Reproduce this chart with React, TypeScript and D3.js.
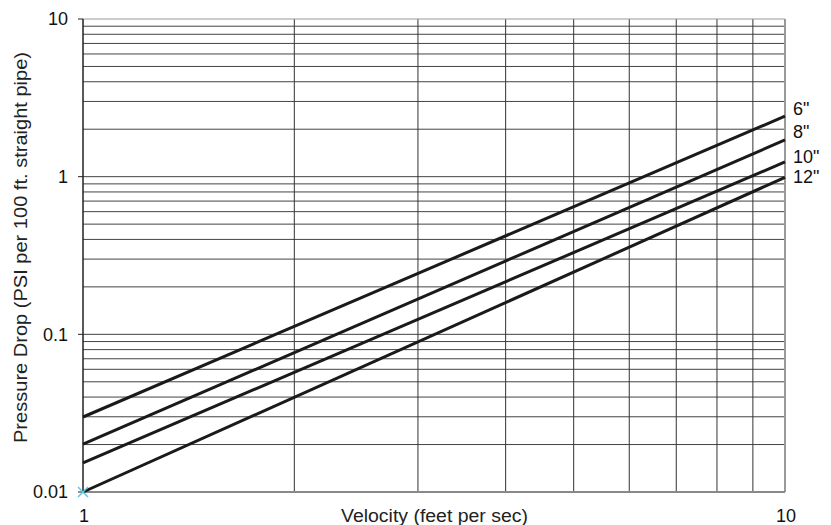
import React from "react";
import * as d3 from "d3";

const velocities = [1, 10];
const pipe6 = [0.0299, 2.42];
const pipe8 = [0.0201, 1.71];
const pipe10 = [0.0153, 1.24];
const pipe12 = [0.01, 0.99];
const seriesNames = ['6"', '8"', '10"', '12"'];
const xTickLabels = [1, 10];
const yTickLabels = [0.01, 0.1, 1, 10];

const W = 831, H = 525;
const M = { left: 83, right: 785, top: 19, bottom: 492 };
const labelDy = [-1, -2, 1, 6];

export default function App() {
  const x = d3.scaleLog().domain([1, 10]).range([M.left, M.right]);
  const y = d3.scaleLog().domain([0.01, 10]).range([M.bottom, M.top]);
  const series = [pipe6, pipe8, pipe10, pipe12];
  const line = d3.line<[number, number]>().x(d => x(d[0])).y(d => y(d[1]));

  const yGrid: number[] = [];
  for (let e = -2; e < 1; e++) for (let k = 1; k <= 9; k++) yGrid.push(k * Math.pow(10, e));
  const xGrid = [2, 3, 4, 5, 6, 7, 8, 9];

  const font = "'Liberation Sans', Arial, Helvetica, sans-serif";

  return (
    <svg width={W} height={H} style={{ position: "absolute", left: 0, top: 0, background: "#fff" }} fontFamily={font}>
      {yGrid.filter(v => v > 0.01).map((v, i) => (
        <line key={"yg" + i} x1={M.left} x2={M.right} y1={y(v)} y2={y(v)} stroke="#444" strokeWidth={1} />
      ))}
      {xGrid.map((v, i) => (
        <line key={"xg" + i} x1={x(v)} x2={x(v)} y1={M.top} y2={M.bottom} stroke="#333" strokeWidth={1} />
      ))}
      <line x1={M.left} x2={M.right} y1={M.top} y2={M.top} stroke="#999" strokeWidth={1.2} />
      <line x1={M.right} x2={M.right} y1={M.top} y2={M.bottom} stroke="#999" strokeWidth={2} />
      <line x1={M.left} x2={M.right} y1={M.bottom} y2={M.bottom} stroke="#888" strokeWidth={2} />
      <line x1={M.left} x2={M.left} y1={M.top} y2={M.bottom} stroke="#222" strokeWidth={1.5} />
      {yTickLabels.map((v, i) => (
        <g key={"yt" + i}>
          <line x1={M.left - 5} x2={M.left} y1={y(v)} y2={y(v)} stroke="#222" strokeWidth={1} />
          <text x={M.left - 15} y={y(v)} dy="0.36em" textAnchor="end" fontSize={18} fill="#111">{v}</text>
        </g>
      ))}
      {xTickLabels.map((v, i) => (
        <text key={"xt" + i} x={x(v) + 1} y={522} textAnchor="middle" fontSize={18} fill="#111">{v}</text>
      ))}
      <text x={341} y={521.5} textLength={187} lengthAdjust="spacingAndGlyphs" fontSize={17.5} fill="#222">Velocity (feet per sec)</text>
      <text transform={`translate(27,443) rotate(-90)`} textLength={391} lengthAdjust="spacingAndGlyphs" fontSize={17.5} fill="#222">
        Pressure Drop (PSI per 100 ft. straight pipe)
      </text>
      {series.map((s, i) => {
        const pts = velocities.map((v, j) => [v, s[j]] as [number, number]);
        return (
          <g key={"s" + i}>
            <path d={line(pts) || ""} fill="none" stroke="#1a1a1a" strokeWidth={3} />
            <text x={M.right + 8} y={y(s[s.length - 1]) + labelDy[i]} fontSize={18} fill="#111">{seriesNames[i]}</text>
          </g>
        );
      })}
      <g transform={`translate(${x(1)},${y(0.01)})`} stroke="#5bc8e6" strokeWidth={1.5}>
        <line x1={-5} y1={-5} x2={5} y2={5} />
        <line x1={-5} y1={5} x2={5} y2={-5} />
      </g>
    </svg>
  );
}
